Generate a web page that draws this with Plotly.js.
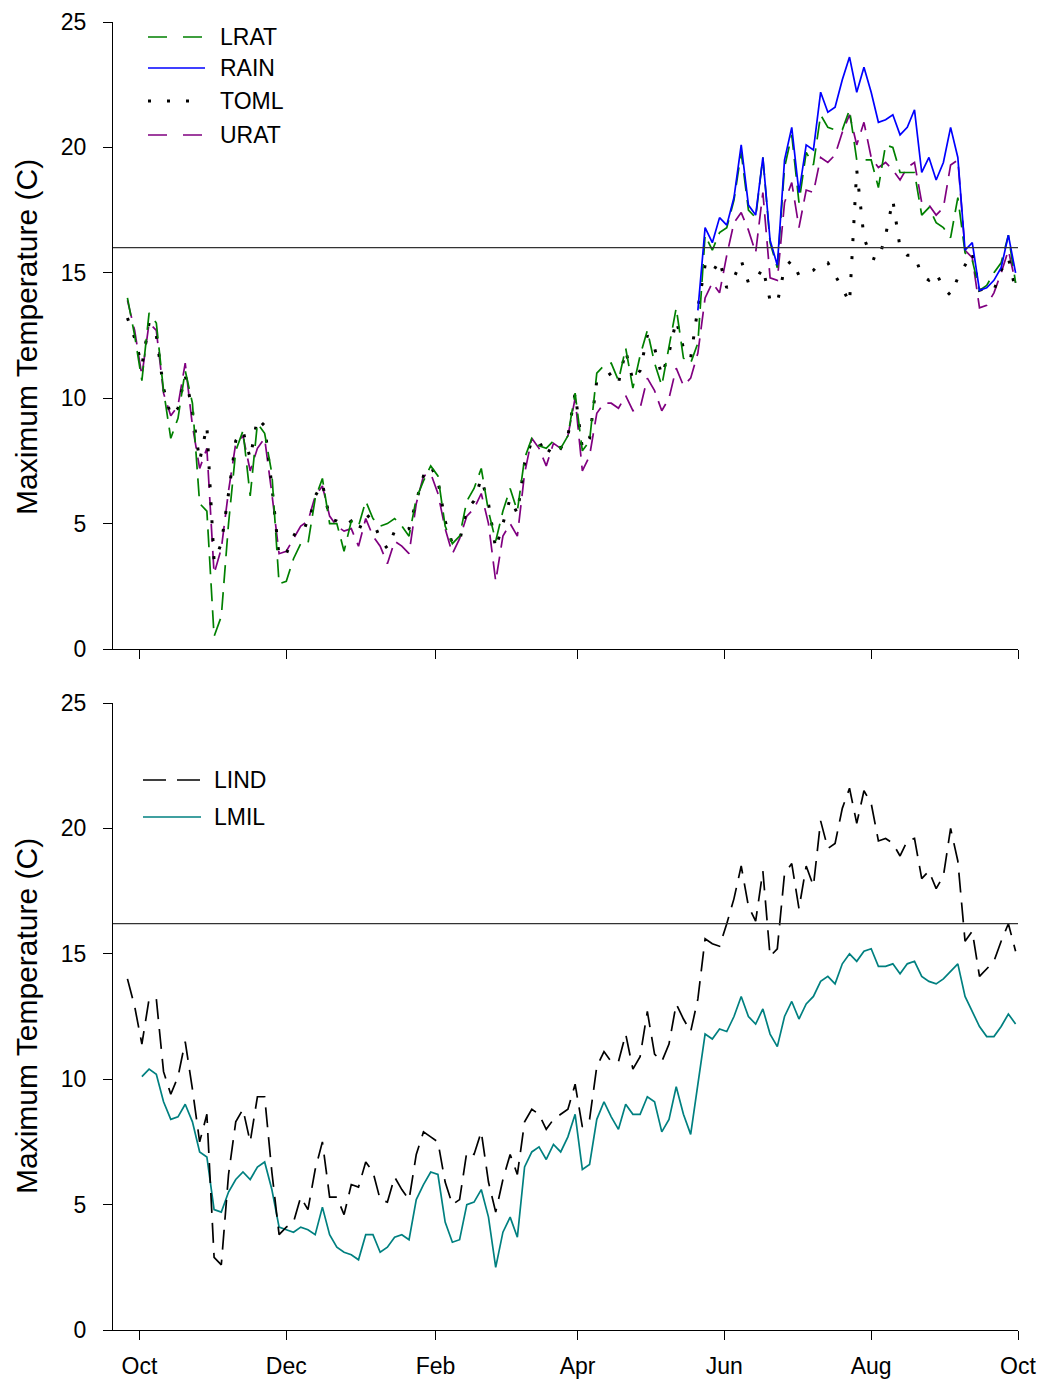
<!DOCTYPE html>
<html><head><meta charset="utf-8">
<script src="https://cdn.plot.ly/plotly-3.0.1.min.js"></script>
<style>html,body{margin:0;padding:0;background:#fff}#chart{width:1042px;height:1381px}</style>
</head><body><div id="chart"></div>
<script>
const startDate = [2010, 8, 20];
const stepDays = 3;
const monthTickDates = ['2010-10-01','2010-12-01','2011-02-01','2011-04-01','2011-06-01','2011-08-01','2011-10-01'];
const monthTickLabels = ['Oct','Dec','Feb','Apr','Jun','Aug','Oct'];
const yTicks = [0, 5, 10, 15, 20, 25];
const topThreshold = 16.0;
const bottomThreshold = 16.2;

const lratStart = 2;
const lrat = [14.0,12.5,10.7,13.4,13.0,10.3,8.4,9.2,11.1,9.8,
  5.8,5.5,0.5,1.3,5.0,7.9,8.7,6.1,9.0,8.6,
  7.0,2.6,2.7,3.6,4.2,4.2,6.0,6.8,5.0,5.0,
  3.9,5.1,4.9,5.9,5.2,4.9,5.0,5.2,4.9,4.5,
  6.0,6.7,7.3,6.9,4.9,4.2,4.5,5.9,6.4,7.2,
  5.5,4.3,5.5,6.4,5.5,7.6,8.4,8.1,8.0,8.3,
  8.0,8.5,10.2,7.9,8.3,11.0,11.3,11.4,10.7,12.0,
  10.4,11.7,12.7,11.4,10.5,12.1,13.6,11.6,11.4,12.2,
  16.5,15.9,16.6,16.8,17.9,19.8,17.5,17.2,19.6,16.2,
  15.2,19.2,20.5,17.8,19.8,19.3,21.3,20.8,20.7,20.7,
  21.5,19.5,19.5,19.5,18.4,20.1,20.0,19.0,19.0,19.0,
  17.3,17.6,17.0,16.8,16.4,18.0,15.8,15.5,14.3,14.5,
  15.0,15.4,16.5,14.6];

const rainStart = 81;
const rain = [13.5,16.8,16.2,17.2,16.9,18.0,20.1,17.7,17.3,19.6,
  16.3,15.3,19.5,20.8,18.2,20.1,19.9,22.2,21.4,21.6,
  22.7,23.6,22.2,23.2,22.2,21.0,21.1,21.3,20.5,20.8,
  21.5,19.0,19.6,18.7,19.4,20.8,19.6,15.9,16.2,14.3,
  14.4,14.7,15.2,16.5,15.0];

const tomlStart = 2;
const toml = [13.2,12.4,11.3,13.0,12.5,10.4,9.3,9.6,10.9,9.5,
  7.5,8.9,3.5,4.2,6.2,8.3,8.7,7.6,9.2,8.9,
  6.5,3.7,3.8,4.5,5.0,4.9,6.1,6.6,5.2,5.1,
  4.9,5.1,4.7,5.4,5.1,4.4,4.0,4.7,4.7,4.8,
  5.9,6.9,7.3,6.7,5.1,4.2,4.3,5.6,5.9,6.8,
  5.8,4.0,5.0,6.0,5.4,7.4,8.3,8.3,7.7,8.2,
  8.0,8.5,10.2,8.0,8.4,10.7,10.8,11.0,10.6,11.9,
  10.7,11.1,12.5,12.0,10.9,11.8,13.1,12.0,11.6,13.6,
  15.3,15.0,15.5,14.4,14.8,15.5,14.6,14.7,15.2,13.9,
  13.8,15.2,15.5,14.9,15.0,15.1,15.4,15.4,14.9,14.4,
  13.8,19.1,16.4,15.6,15.5,16.5,17.9,16.0,15.7,15.7,
  14.9,14.7,15.0,14.4,14.1,14.8,15.3,15.8,14.3,14.4,
  14.3,15.1,15.6,14.3];

const uratStart = 2;
const urat = [13.9,12.7,10.9,13.0,12.7,10.2,9.3,9.7,11.4,8.9,
  7.2,8.0,3.0,4.0,6.3,8.2,8.5,7.1,8.0,8.4,
  6.2,3.8,3.9,4.4,4.9,5.1,6.1,6.5,5.3,4.9,
  4.7,4.8,4.1,5.2,4.5,4.1,3.4,4.3,4.1,3.8,
  5.8,6.9,7.0,6.2,4.8,3.8,4.4,5.3,5.6,6.2,
  5.0,2.7,4.5,5.0,4.5,7.0,8.4,8.0,7.3,8.2,
  8.0,8.5,10.0,7.1,7.7,9.4,9.8,9.8,9.6,10.1,
  9.5,9.6,10.8,10.3,9.5,10.0,11.2,10.5,10.8,11.8,
  14.0,14.6,14.2,15.7,17.0,17.4,16.7,15.8,18.2,14.8,
  14.7,17.8,18.6,16.8,18.3,18.2,19.6,19.4,19.7,20.6,
  21.3,20.1,21.0,19.6,19.2,19.4,19.1,18.7,19.2,19.4,
  17.8,17.7,17.3,17.6,19.3,19.5,15.9,15.6,13.6,13.7,
  14.2,15.0,15.9,14.6];

const lindStart = 2;
const lind = [14.0,12.9,11.4,13.2,13.2,10.3,9.4,10.1,11.5,9.6,
  7.5,8.6,2.9,2.6,6.2,8.3,8.8,7.5,9.3,9.3,
  6.3,3.8,4.1,4.3,5.3,4.8,6.4,7.5,5.3,5.3,
  4.6,5.8,5.7,6.7,6.3,5.2,5.1,6.1,5.6,5.2,
  7.0,7.9,7.7,7.5,5.9,5.0,5.2,7.1,7.0,7.9,
  5.9,4.7,6.0,7.0,6.2,8.3,8.8,8.6,8.0,8.4,
  8.6,8.8,9.8,8.1,8.4,10.5,11.1,10.7,10.7,11.8,
  10.4,10.9,12.7,11.0,10.7,11.4,13.0,12.4,11.9,13.2,
  15.6,15.4,15.3,16.2,17.2,18.5,16.9,16.3,18.3,14.9,
  15.2,18.2,18.6,16.8,18.5,17.7,20.3,19.2,19.4,20.8,
  21.6,20.2,21.5,21.0,19.5,19.6,19.4,18.9,19.5,19.6,
  18.0,18.3,17.6,18.1,20.0,18.7,15.5,15.9,14.1,14.4,
  14.7,15.5,16.2,15.1];

const lmilStart = 4;
const lmil = [10.1,10.4,10.2,9.1,8.4,8.5,9.0,8.3,
  7.1,6.9,4.8,4.7,5.5,6.0,6.3,6.0,6.5,6.7,
  5.6,4.1,4.0,3.9,4.1,4.0,3.8,4.9,3.8,3.3,
  3.1,3.0,2.8,3.8,3.8,3.1,3.3,3.7,3.8,3.6,
  5.2,5.8,6.3,6.2,4.3,3.5,3.6,5.0,5.1,5.6,
  4.5,2.5,3.9,4.5,3.7,6.5,7.1,7.3,6.8,7.4,
  7.1,7.7,8.6,6.4,6.6,8.4,9.1,8.5,8.0,9.0,
  8.6,8.6,9.3,9.1,7.9,8.4,9.7,8.6,7.8,9.8,
  11.8,11.6,12.0,11.9,12.5,13.3,12.5,12.2,12.8,11.8,
  11.3,12.5,13.1,12.4,13.0,13.3,13.9,14.1,13.8,14.6,
  15.0,14.7,15.1,15.2,14.5,14.5,14.6,14.2,14.6,14.7,
  14.1,13.9,13.8,14.0,14.3,14.6,13.3,12.7,12.1,11.7,
  11.7,12.1,12.6,12.2];

// ---- helpers ----
function datesFrom(startIdx, n) {
  const base = Date.UTC(startDate[0], startDate[1], startDate[2]);
  const out = [];
  for (let i = 0; i < n; i++) {
    out.push(new Date(base + (startIdx + i) * stepDays * 86400000).toISOString().slice(0, 10));
  }
  return out;
}
function series(name, start, vals, color, width, dash, xa, ya) {
  return {type: 'scatter', mode: 'lines', name: name, x: datesFrom(start, vals.length), y: vals,
    xaxis: xa, yaxis: ya, showlegend: false, connectgaps: false,
    line: {color: color, width: width, dash: dash}};
}

const C = {lrat: 'rgb(0,128,0)', rain: 'rgb(0,0,255)', toml: '#000000', urat: 'rgb(128,0,128)', lind: '#000000', lmil: 'rgb(0,128,128)'};
const D = {lrat: '18px,9px', rain: 'solid', toml: '3px,15px', urat: '18px,9px', lind: '20px,10px', lmil: 'solid'};
const LD = {lrat: '19px,16px', rain: 'solid', toml: '3px,16px', urat: '19px,16px', lind: '23px,11px', lmil: 'solid'};
const Wd = {lrat: 1.7, rain: 1.7, toml: 3, urat: 1.7, lind: 1.7, lmil: 1.7};

const traces = [
  series('URAT', uratStart, urat, C.urat, Wd.urat, D.urat, 'x', 'y'),
  series('TOML', tomlStart, toml, C.toml, Wd.toml, D.toml, 'x', 'y'),
  series('LRAT', lratStart, lrat, C.lrat, Wd.lrat, D.lrat, 'x', 'y'),
  series('RAIN', rainStart, rain, C.rain, Wd.rain, D.rain, 'x', 'y'),
  series('LMIL', lmilStart, lmil, C.lmil, Wd.lmil, D.lmil, 'x2', 'y2'),
  series('LIND', lindStart, lind, C.lind, Wd.lind, D.lind, 'x2', 'y2')
];

// ---- layout ----
const FIG_W = 1042, FIG_H = 1381;
const M = {l: 113, r: 24, t: 22, b: 51};
const plotW = FIG_W - M.l - M.r, plotH = FIG_H - M.t - M.b;
const px = v => (v - M.l) / plotW;
const py = v => 1 - (v - M.t) / plotH;
const FONT = 'Liberation Sans, Arial, Helvetica, sans-serif';
const xRange = ['2010-09-20', '2011-10-01'];

function xAxis(anchor, labels) {
  return {anchor: anchor, type: 'date', range: xRange, tickmode: 'array', tickvals: monthTickDates,
    ticktext: monthTickLabels, showticklabels: labels, ticks: 'outside', ticklen: 9, tickwidth: 1,
    tickcolor: '#000', showline: true, linecolor: '#000', linewidth: 1, showgrid: false, zeroline: false,
    tickfont: {size: 23, color: '#000', family: FONT}, ticklabelstandoff: 6};
}
function yAxis(anchor, domain) {
  return {anchor: anchor, domain: domain, range: [0, 25], tickmode: 'array', tickvals: yTicks,
    ticks: 'outside', ticklen: 9, tickwidth: 1, tickcolor: '#000', showline: true, linecolor: '#000',
    linewidth: 1, showgrid: false, zeroline: false, tickfont: {size: 23, color: '#000', family: FONT},
    ticklabelstandoff: 12};
}
const topDomain = [py(649), 1];
const botDomain = [0, py(703)];

const shapes = [
  {type: 'line', xref: 'paper', yref: 'y', x0: 0, x1: 1, y0: topThreshold, y1: topThreshold, line: {color: '#333', width: 1.2}},
  {type: 'line', xref: 'paper', yref: 'y2', x0: 0, x1: 1, y0: bottomThreshold, y1: bottomThreshold, line: {color: '#333', width: 1.2}}
];
const annotations = [];
const legendTop = [
  ['LRAT', 'lrat', 37], ['RAIN', 'rain', 68], ['TOML', 'toml', 101], ['URAT', 'urat', 135]
];
legendTop.forEach(([name, key, yPix]) => {
  shapes.push({type: 'line', xref: 'paper', yref: 'paper', x0: px(148), x1: px(205), y0: py(yPix), y1: py(yPix),
    line: {color: C[key], width: Wd[key], dash: LD[key]}});
  annotations.push({xref: 'paper', yref: 'paper', x: px(218), y: py(yPix), xanchor: 'left', yanchor: 'middle',
    text: name, showarrow: false, font: {size: 23, color: '#000', family: FONT}});
});
const legendBot = [['LIND', 'lind', 780], ['LMIL', 'lmil', 817]];
legendBot.forEach(([name, key, yPix]) => {
  shapes.push({type: 'line', xref: 'paper', yref: 'paper', x0: px(143), x1: px(201), y0: py(yPix), y1: py(yPix),
    line: {color: C[key], width: Wd[key], dash: LD[key]}});
  annotations.push({xref: 'paper', yref: 'paper', x: px(212), y: py(yPix), xanchor: 'left', yanchor: 'middle',
    text: name, showarrow: false, font: {size: 23, color: '#000', family: FONT}});
});
[[337], [1016]].forEach(([yc]) => {
  annotations.push({xref: 'paper', yref: 'paper', x: px(26), y: py(yc), xanchor: 'center', yanchor: 'middle',
    text: 'Maximum Temperature (C)', textangle: -90, showarrow: false, font: {size: 30, color: '#000', family: FONT}});
});

const layout = {
  width: FIG_W, height: FIG_H, margin: M, paper_bgcolor: '#fff', plot_bgcolor: '#fff',
  font: {family: FONT, color: '#000'}, showlegend: false,
  xaxis: xAxis('y', false), yaxis: yAxis('x', topDomain),
  xaxis2: xAxis('y2', true), yaxis2: yAxis('x2', botDomain),
  shapes: shapes, annotations: annotations
};
Plotly.newPlot('chart', traces, layout, {staticPlot: true, displayModeBar: false});
</script></body></html>
